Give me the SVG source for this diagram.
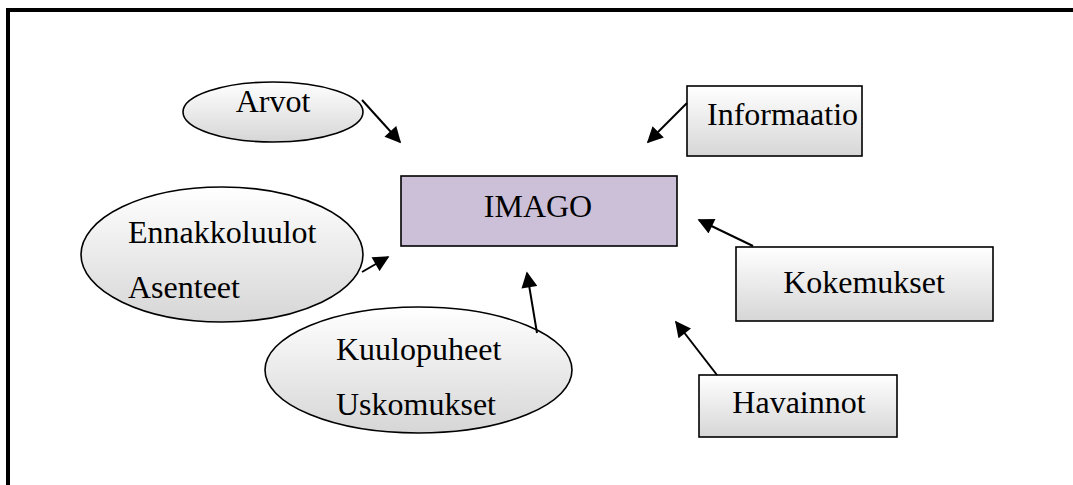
<svg xmlns="http://www.w3.org/2000/svg" width="1073" height="485" viewBox="0 0 1073 485">
<defs>
<linearGradient id="g" x1="0" y1="0" x2="0" y2="1">
<stop offset="0" stop-color="#ffffff"/>
<stop offset="1" stop-color="#d6d6d6"/>
</linearGradient>
<marker id="ah" viewBox="0 0 10 10" refX="9" refY="5" markerWidth="8.5" markerHeight="8" markerUnits="strokeWidth" orient="auto">
<path d="M0,0 L10,5 L0,10 z" fill="#000"/>
</marker>
<style>
.t{font-family:"Liberation Serif","Times New Roman",serif;font-size:32px;fill:#000}
.n{fill:url(#g);stroke:#000;stroke-width:1.6}
.c line{stroke:#000;stroke-width:2;marker-end:url(#ah)}
</style>
</defs>
<rect x="0" y="0" width="1073" height="485" fill="#fff"/>
<rect x="8" y="10" width="1100" height="500" fill="none" stroke="#000" stroke-width="4"/>
<g id="arvot"><ellipse class="n" cx="273" cy="112" rx="90" ry="30"/><text class="t" x="273" y="112" text-anchor="middle">Arvot</text></g>
<g id="informaatio"><rect class="n" x="687" y="86" width="175" height="70"/><text class="t" x="707" y="125">Informaatio</text></g>
<g id="imago"><rect x="401" y="176" width="276" height="70" fill="#ccc0d9" stroke="#000" stroke-width="1.6"/><text class="t" x="538" y="217" text-anchor="middle">IMAGO</text></g>
<g id="ennakkoluulot"><ellipse class="n" cx="222" cy="254.5" rx="141" ry="67.5"/><text class="t" x="128" y="243">Ennakkoluulot</text><text class="t" x="128" y="298">Asenteet</text></g>
<g id="kuulopuheet"><ellipse class="n" cx="418.5" cy="370" rx="153.5" ry="63"/><text class="t" x="336" y="360">Kuulopuheet</text><text class="t" x="336" y="415">Uskomukset</text></g>
<g id="kokemukset"><rect class="n" x="736" y="247" width="257" height="74"/><text class="t" x="864" y="293" text-anchor="middle">Kokemukset</text></g>
<g id="havainnot"><rect class="n" x="699" y="375" width="198" height="62"/><text class="t" x="799" y="413" text-anchor="middle">Havainnot</text></g>
<g class="c" id="connectors">
<line x1="362" y1="100" x2="400" y2="142"/>
<line x1="687" y1="103" x2="648" y2="142"/>
<line x1="362" y1="272" x2="388" y2="257"/>
<line x1="537" y1="333" x2="527" y2="273"/>
<line x1="753" y1="246" x2="699" y2="220"/>
<line x1="717" y1="375" x2="676" y2="322"/>
</g>
</svg>
